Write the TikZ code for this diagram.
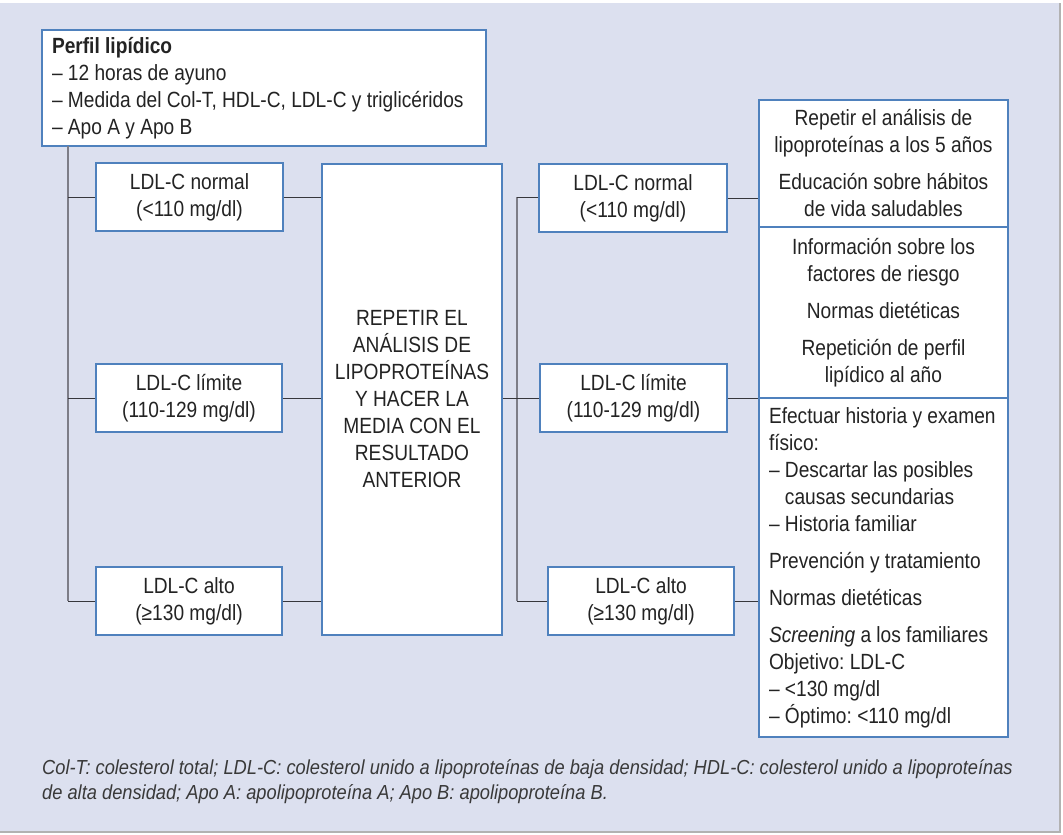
\documentclass[tikz,border=0pt]{standalone}
\usepackage{fontspec}
\setmainfont{Liberation Sans}[FakeStretch=0.87]
\newfontfamily\notafont{Liberation Sans}[FakeStretch=0.90]
\usetikzlibrary{positioning, calc}

\definecolor{fondo}{RGB}{220,224,239}
\definecolor{borde}{RGB}{79,129,189}
\definecolor{linea}{RGB}{55,55,60}
\definecolor{tronco}{RGB}{125,125,135}
\definecolor{texto}{RGB}{35,35,35}

\begin{document}
\begin{tikzpicture}[x=1pt, y=-1pt,
    caja/.style={draw=borde, line width=1.2pt, fill=white, text=texto, inner sep=0pt,
        font=\fontsize{22}{27}\selectfont, align=center},
    izq/.style={inner xsep=10pt, align=left},
    enlace/.style={draw=linea, line width=1pt},
    vertical/.style={draw=tronco, line width=1.4pt}]
    \useasboundingbox (0,0) rectangle (1063,835);
    % Fondo
    \fill[white] (0,0) rectangle (1063,835);
    \fill[fondo] (0,3) rectangle (1060,832);
    \draw[gray!60, line width=1.5pt] (1060,3) -- (1060,832) -- (0,832);

    % Perfil lipídico
    \node[caja, izq, minimum width=444, minimum height=116, text width=424pt]
        (perfil) at (264,88) {\spaceskip=0pt\xspaceskip=0pt\frenchspacing
        \textbf{Perfil lipídico}\\
        – 12 horas de ayuno\\
        – Medida del Col-T, HDL-C, LDL-C y triglicéridos\\
        – Apo A y Apo B};

    % Primera determinación
    \node[caja, minimum width=187, minimum height=68] (normalL) at (189.5,197) {LDL-C normal\\(<110 mg/dl)};
    \node[caja, minimum width=186, minimum height=68] (limiteL) at (189,398) {LDL-C límite\\(110-129 mg/dl)};
    \node[caja, minimum width=186, minimum height=68] (altoL) at (189,601) {LDL-C alto\\(≥130 mg/dl)};
    \node[caja, minimum width=180, minimum height=471] (repetir) at (412,399.5)
        {REPETIR EL\\ANÁLISIS DE\\LIPOPROTEÍNAS\\Y HACER LA\\MEDIA CON EL\\RESULTADO\\ANTERIOR};

    % Segunda determinación
    \node[caja, minimum width=188, minimum height=68] (normalR) at (633,198) {LDL-C normal\\(<110 mg/dl)};
    \node[caja, minimum width=187, minimum height=68] (limiteR) at (633.5,398) {LDL-C límite\\(110-129 mg/dl)};
    \node[caja, minimum width=186, minimum height=68] (altoR) at (641,601) {LDL-C alto\\(≥130 mg/dl)};

    % Actuaciones
    \node[caja, minimum width=249, minimum height=127] (accion1) at (883.5,163.5)
        {Repetir el análisis de\\lipoproteínas a los 5 años\\[10pt]
         Educación sobre hábitos\\de vida saludables};
    \node[caja, minimum width=249, minimum height=171] (accion2) at (883.5,312.5)
        {Información sobre los\\factores de riesgo\\[10pt]
         Normas dietéticas\\[10pt]
         Repetición de perfil\\lipídico al año};
    \node[caja, izq, minimum width=249, minimum height=339, text width=229pt]
        (accion3) at (883.5,567.5)
        {\spaceskip=0pt\xspaceskip=0pt\frenchspacing
         \mbox{Efectuar historia y examen}\\físico:\\
         – Descartar las posibles\\\phantom{– }causas secundarias\\
         – Historia familiar\\[10pt]
         Prevención y tratamiento\\[10pt]
         Normas dietéticas\\[10pt]
         \mbox{\textit{Screening} a los familiares}\\
         Objetivo: LDL-C\\
         – <130 mg/dl\\
         – Óptimo: <110 mg/dl};

    % Conexiones izquierda
    \coordinate (ti) at (68,146);
    \draw[vertical] (ti) -- (ti |- altoL.west);
    \draw[enlace] (ti |- normalL.west) -- (normalL.west);
    \draw[enlace] (ti |- limiteL.west) -- (limiteL.west);
    \draw[enlace] (ti |- altoL.west) -- (altoL.west);
    \draw[enlace] (normalL.east) -- (normalL.east -| repetir.west);
    \draw[enlace] (limiteL.east) -- (limiteL.east -| repetir.west);
    \draw[enlace] (altoL.east) -- (altoL.east -| repetir.west);

    % Conexiones derecha
    \coordinate (td) at (517,197);
    \draw[vertical] (td) -- (td |- altoR.west);
    \draw[enlace] (td) -- (td -| normalR.west);
    \draw[enlace] (repetir.east |- limiteR.west) -- (limiteR.west);
    \draw[enlace] (td |- altoR.west) -- (altoR.west);
    \draw[enlace] (normalR.east) -- (normalR.east -| accion1.west);
    \draw[enlace] (limiteR.east) -- (limiteR.east -| accion3.west);
    \draw[enlace] (altoR.east) -- (altoR.east -| accion3.west);

    % Nota
    \node[anchor=north west, inner sep=0pt, text=texto!90, align=left,
        font=\notafont\itshape\fontsize{20.3}{25}\selectfont] (nota) at (42,759)
        {\spaceskip=0pt\xspaceskip=0pt\frenchspacing
         Col-T: colesterol total; LDL-C: colesterol unido a lipoproteínas de baja densidad; HDL-C: colesterol unido a lipoproteínas\\
         de alta densidad; Apo A: apolipoproteína A; Apo B: apolipoproteína B.};
\end{tikzpicture}
\end{document}
